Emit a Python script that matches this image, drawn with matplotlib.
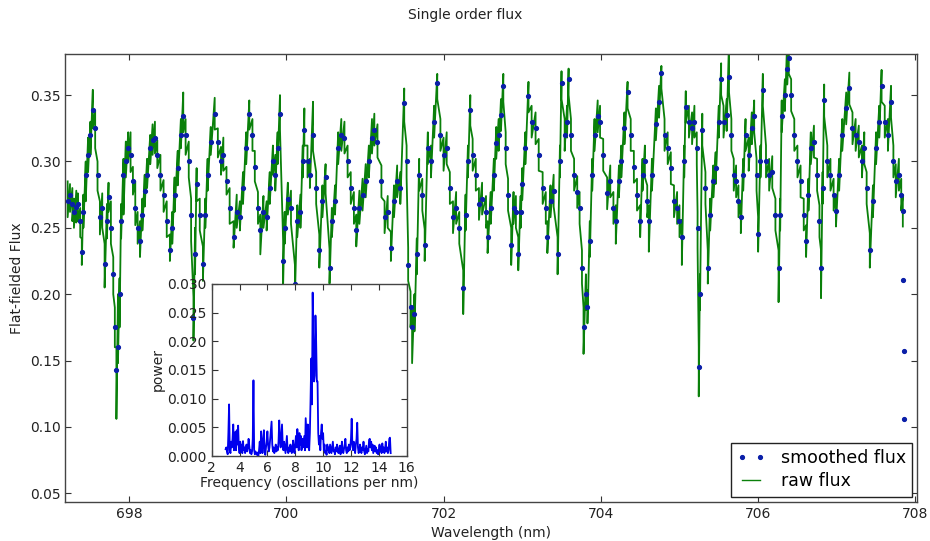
import numpy as np
import matplotlib
matplotlib.use("Agg")
import matplotlib.pyplot as plt
from matplotlib.ticker import FormatStrFormatter

# ---------------- data ----------------
# wavelength samples of the order (nm)
wavelength = [
    697.22, 697.25, 697.28, 697.30, 697.33, 697.35, 697.38, 697.40, 697.42, 697.45,
    697.48, 697.51, 697.54, 697.57, 697.60, 697.63, 697.66, 697.69, 697.72, 697.74,
    697.77, 697.80, 697.82, 697.84, 697.86, 697.88, 697.90, 697.93, 697.96, 697.99,
    698.02, 698.05, 698.08, 698.11, 698.14, 698.17, 698.20, 698.23, 698.27, 698.30,
    698.33, 698.36, 698.40, 698.44, 698.48, 698.52, 698.55, 698.58, 698.62, 698.66,
    698.69, 698.72, 698.76, 698.79, 698.82, 698.84, 698.86, 698.90, 698.94, 698.97,
    699.00, 699.04, 699.09, 699.13, 699.17, 699.20, 699.24, 699.28, 699.33, 699.37,
    699.41, 699.45, 699.49, 699.53, 699.57, 699.60, 699.64, 699.67, 699.71, 699.75,
    699.79, 699.83, 699.86, 699.89, 699.92, 699.96, 699.98, 700.02, 700.06, 700.11,
    700.14, 700.18, 700.21, 700.23, 700.27, 700.30, 700.34, 700.38, 700.42, 700.46,
    700.50, 700.55, 700.58, 700.62, 700.66, 700.70, 700.74, 700.78, 700.82, 700.86,
    700.89, 700.93, 700.97, 701.01, 701.05, 701.09, 701.12, 701.16, 701.21, 701.25,
    701.29, 701.33, 701.37, 701.41, 701.45, 701.50, 701.53, 701.55, 701.58, 701.60,
    701.63, 701.66, 701.69, 701.73, 701.76, 701.80, 701.84, 701.88, 701.92, 701.96,
    702.00, 702.04, 702.08, 702.12, 702.16, 702.20, 702.25, 702.28, 702.31, 702.34,
    702.37, 702.41, 702.45, 702.49, 702.54, 702.56, 702.60, 702.64, 702.67, 702.70,
    702.73, 702.76, 702.79, 702.82, 702.86, 702.89, 702.92, 702.95, 702.98, 703.00,
    703.04, 703.08, 703.12, 703.17, 703.21, 703.26, 703.30, 703.32, 703.36, 703.40,
    703.45, 703.48, 703.50, 703.54, 703.57, 703.59, 703.62, 703.66, 703.70, 703.73,
    703.76, 703.78, 703.81, 703.83, 703.86, 703.89, 703.92, 703.96, 703.99, 704.03,
    704.08, 704.12, 704.16, 704.19, 704.23, 704.26, 704.30, 704.34, 704.38, 704.42,
    704.46, 704.50, 704.53, 704.56, 704.59, 704.61, 704.65, 704.70, 704.74, 704.77,
    704.81, 704.85, 704.89, 704.93, 704.97, 705.00, 705.03, 705.06, 705.08, 705.12,
    705.16, 705.19, 705.22, 705.23, 705.245, 705.26, 705.29, 705.33, 705.36, 705.39,
    705.43, 705.46, 705.50, 705.53, 705.56, 705.60, 705.63, 705.66, 705.69, 705.72,
    705.75, 705.78, 705.81, 705.84, 705.88, 705.92, 705.95, 705.98, 706.00, 706.03,
    706.06, 706.10, 706.14, 706.18, 706.22, 706.26, 706.28, 706.30, 706.34, 706.37,
    706.39, 706.42, 706.46, 706.50, 706.54, 706.58, 706.61, 706.64, 706.67, 706.71,
    706.75, 706.78, 706.80, 706.82, 706.84, 706.88, 706.92, 706.96, 706.99, 707.03,
    707.07, 707.12, 707.16, 707.20, 707.24, 707.28, 707.32, 707.35, 707.38, 707.42,
    707.46, 707.50, 707.54, 707.57, 707.61, 707.65, 707.69, 707.72, 707.75, 707.79,
    707.82, 707.84,
]

# smoothed flux, in units of 1e-3
smoothed_milli = [
    270, 275, 268, 262, 266, 268, 255, 232, 262, 290,
    305, 320, 339, 325, 290, 258, 265, 223, 255, 273,
    250, 215, 175, 143, 160, 200, 255, 290, 300, 310,
    305, 285, 265, 250, 240, 260, 278, 290, 310, 316,
    318, 305, 290, 275, 255, 233, 250, 275, 295, 320,
    334, 320, 300, 260, 182, 230, 283, 260, 223, 260,
    290, 315, 336, 315, 300, 305, 285, 265, 243, 262,
    258, 280, 310, 336, 320, 296, 265, 248, 262, 258,
    280, 300, 290, 310, 336, 225, 250, 272, 265, 208,
    255, 262, 300, 324, 300, 290, 320, 280, 233, 270,
    288, 220, 255, 270, 310, 320, 318, 300, 280, 265,
    248, 265, 275, 285, 300, 318, 324, 315, 285, 258,
    262, 235, 270, 285, 280, 344, 300, 222, 190, 175,
    185, 230, 290, 275, 237, 310, 300, 330, 359, 320,
    305, 310, 280, 258, 265, 250, 205, 260, 300, 339,
    305, 290, 268, 272, 262, 243, 265, 290, 314, 320,
    335, 357, 310, 275, 237, 265, 262, 230, 262, 283,
    310, 349, 330, 325, 305, 280, 265, 243, 270, 278,
    230, 300, 359, 320, 330, 362, 320, 290, 277, 265,
    220, 175, 200, 190, 240, 290, 320, 334, 330, 305,
    276, 285, 265, 255, 285, 300, 325, 352, 320, 296,
    275, 255, 290, 300, 270, 255, 290, 328, 345, 367,
    320, 310, 295, 270, 265, 255, 243, 300, 341, 330,
    325, 330, 310, 250, 145, 200, 324, 280, 220, 260,
    285, 295, 330, 362, 330, 335, 364, 320, 290, 285,
    270, 258, 290, 320, 305, 325, 334, 290, 245, 300,
    354, 300, 290, 292, 260, 220, 260, 334, 350, 370,
    378, 350, 320, 300, 285, 260, 240, 275, 310, 315,
    290, 255, 220, 280, 346, 300, 290, 275, 263, 290,
    320, 340, 355, 325, 320, 315, 300, 310, 280, 233,
    270, 310, 330, 357, 330, 320, 345, 300, 285, 290,
    275, 263,
]

# raw flux: upper excursion at each sample, in units of 1e-3
raw_high_milli = [
    285, 283, 280, 272, 278, 276, 265, 242, 275, 300,
    318, 330, 354, 338, 300, 270, 276, 238, 268, 284,
    270, 228, 190, 160, 200, 212, 268, 302, 315, 322,
    322, 296, 285, 262, 255, 272, 290, 302, 320, 328,
    330, 316, 305, 286, 270, 245, 262, 288, 308, 332,
    352, 332, 315, 272, 198, 250, 295, 272, 236, 272,
    302, 326, 348, 325, 311, 318, 296, 280, 255, 275,
    270, 292, 322, 346, 332, 308, 277, 260, 274, 270,
    292, 312, 305, 322, 350, 240, 262, 284, 278, 222,
    267, 275, 312, 340, 312, 302, 345, 292, 245, 282,
    298, 234, 265, 282, 322, 332, 330, 312, 292, 277,
    260, 278, 287, 298, 312, 332, 336, 328, 297, 270,
    274, 247, 282, 297, 292, 355, 312, 235, 202, 188,
    200, 242, 302, 287, 249, 322, 312, 342, 366, 332,
    318, 322, 292, 270, 277, 262, 218, 275, 312, 350,
    317, 302, 280, 284, 274, 255, 277, 302, 326, 332,
    347, 366, 322, 287, 250, 277, 274, 243, 274, 295,
    322, 360, 342, 337, 317, 292, 277, 255, 282, 290,
    243, 312, 368, 332, 342, 370, 332, 302, 289, 277,
    233, 190, 215, 203, 255, 302, 332, 346, 342, 317,
    288, 297, 277, 267, 297, 312, 337, 360, 332, 308,
    287, 267, 302, 312, 282, 267, 302, 340, 357, 372,
    332, 322, 307, 282, 277, 267, 256, 312, 353, 342,
    337, 342, 322, 262, 160, 215, 336, 292, 233, 272,
    297, 307, 342, 374, 342, 347, 392, 332, 302, 297,
    282, 270, 302, 332, 318, 337, 346, 302, 258, 312,
    366, 312, 302, 304, 272, 233, 272, 346, 362, 392,
    392, 362, 332, 312, 297, 272, 252, 287, 322, 327,
    302, 267, 233, 292, 358, 312, 302, 287, 275, 302,
    332, 352, 367, 337, 332, 327, 312, 322, 292, 246,
    282, 322, 342, 369, 342, 332, 357, 312, 298, 302,
    287, 275,
]

# raw flux: lower excursion at each sample, in units of 1e-3
raw_low_milli = [
    258, 262, 255, 250, 254, 255, 243, 222, 250, 270,
    292, 305, 325, 310, 278, 245, 250, 205, 242, 262,
    238, 200, 160, 106, 148, 175, 242, 260, 288, 300,
    292, 275, 252, 238, 228, 248, 266, 280, 298, 305,
    306, 295, 278, 262, 243, 225, 238, 262, 282, 310,
    322, 305, 288, 240, 165, 215, 270, 248, 210, 250,
    278, 305, 324, 303, 290, 293, 275, 253, 235, 250,
    248, 268, 298, 324, 308, 285, 253, 230, 250, 248,
    268, 290, 278, 298, 324, 208, 238, 260, 253, 198,
    243, 250, 288, 312, 288, 280, 308, 268, 220, 258,
    276, 208, 243, 260, 298, 308, 306, 288, 268, 253,
    236, 253, 263, 273, 288, 306, 312, 303, 273, 246,
    250, 225, 258, 273, 268, 330, 288, 210, 175, 148,
    172, 215, 278, 263, 225, 298, 288, 318, 347, 308,
    293, 298, 268, 246, 253, 238, 185, 248, 288, 327,
    293, 278, 256, 260, 250, 231, 253, 278, 302, 308,
    323, 345, 298, 263, 222, 253, 250, 218, 250, 271,
    298, 337, 318, 313, 293, 268, 253, 231, 258, 266,
    215, 288, 347, 308, 318, 350, 308, 278, 265, 253,
    208, 155, 188, 178, 228, 278, 308, 322, 318, 293,
    264, 273, 253, 238, 273, 288, 313, 340, 308, 284,
    263, 243, 278, 288, 258, 232, 278, 316, 333, 355,
    308, 298, 283, 258, 253, 243, 222, 288, 329, 318,
    313, 318, 298, 235, 123, 188, 312, 268, 208, 248,
    273, 283, 318, 350, 318, 323, 352, 308, 278, 273,
    258, 246, 278, 308, 293, 313, 322, 278, 232, 288,
    342, 288, 278, 280, 248, 194, 248, 322, 338, 358,
    366, 338, 308, 288, 273, 248, 228, 263, 298, 303,
    278, 243, 197, 268, 334, 288, 278, 263, 251, 278,
    308, 328, 343, 313, 308, 303, 288, 298, 268, 220,
    258, 298, 318, 345, 318, 308, 333, 288, 273, 278,
    263, 251,
]

# the last smoothed samples at the order edge (smoothing falls off)
edge_wavelength = [707.845, 707.850, 707.855]
edge_smoothed_milli = [211, 157, 106]

# inset periodogram: frequency grid start / step (oscillations per nm), power in 1e-4
freq_start = 3.0
freq_step = 0.05
power_e4 = [
    12, 15, 8, 3, 40, 90, 10, 5, 25, 15,
    30, 55, 10, 30, 42, 10, 45, 20, 53, 15,
    5, 25, 10, 20, 5, 26, 10, 15, 5, 12,
    20, 8, 15, 30, 18, 5, 10, 3, 8, 30,
    132, 10, 3, 8, 5, 2, 6, 0, 10, 25,
    5, 43, 15, 5, 30, 45, 10, 2, 15, 25,
    43, 20, 8, 15, 30, 45, 60, 20, 8, 15,
    5, 12, 20, 8, 15, 10, 25, 62, 30, 15,
    35, 55, 20, 10, 25, 15, 5, 20, 35, 10,
    5, 15, 8, 20, 12, 5, 15, 27, 10, 5,
    20, 35, 15, 47, 30, 10, 40, 20, 35, 10,
    30, 15, 25, 35, 10, 66, 40, 15, 55, 30,
    10, 40, 100, 170, 90, 285, 200, 130, 140, 245,
    200, 130, 130, 40, 20, 35, 10, 40, 55, 30,
    40, 10, 20, 5, 8, 2, 20, 10, 15, 5,
    20, 12, 5, 15, 25, 8, 10, 3, 15, 8,
    20, 12, 5, 10, 18, 3, 10, 25, 8, 5,
    12, 20, 30, 10, 5, 15, 8, 20, 10, 15,
    30, 65, 20, 10, 25, 15, 5, 20, 30, 58,
    15, 5, 10, 20, 12, 5, 15, 10, 25, 8,
    3, 10, 18, 5, 12, 8, 28, 30, 15, 25,
    10, 20, 5, 12, 18, 8, 15, 5, 10, 3,
    12, 20, 8, 15, 5, 22, 10, 15, 5, 12,
    25, 8, 15, 5, 10, 30, 32, 5,
]

x_ticks = [698, 700, 702, 704, 706, 708]
y_ticks = [0.05, 0.10, 0.15, 0.20, 0.25, 0.30, 0.35]
inset_x_ticks = [2, 4, 6, 8, 10, 12, 14, 16]
inset_y_ticks = [0.000, 0.005, 0.010, 0.015, 0.020, 0.025, 0.030]

# ---------------- derived arrays ----------------
wl = np.array(wavelength)
smooth = np.array(smoothed_milli) / 1000.0
raw_hi = np.array(raw_high_milli) / 1000.0
raw_lo = np.array(raw_low_milli) / 1000.0
raw_wl = np.repeat(wl, 2)
raw_flux = np.column_stack([raw_hi, raw_lo]).ravel()
sm_wl = np.concatenate([wl, np.array(edge_wavelength)])
sm_flux = np.concatenate([smooth, np.array(edge_smoothed_milli) / 1000.0])
power = np.array(power_e4) / 1e4
freq = freq_start + freq_step * np.arange(len(power))

# ---------------- figure ----------------
plt.rcParams['font.family'] = ['DejaVu Sans']
fig = plt.figure(figsize=(9.3, 5.41), dpi=100)
fig.patch.set_facecolor('white')

ax = fig.add_axes([0.0702, 0.0726, 0.9158, 0.8276])
ax.plot(sm_wl, sm_flux, '.', color='#0a1fa8', markersize=5.5, label='smoothed flux', zorder=3)
ax.plot(raw_wl, raw_flux, '-', color='#0a800a', linewidth=1.3, label='raw flux', zorder=2)
ax.set_xlim(697.19, 708.02)
ax.set_ylim(0.0436, 0.381)
ax.set_xticks(x_ticks)
ax.set_yticks(y_ticks)
ax.yaxis.set_major_formatter(FormatStrFormatter('%.2f'))
ax.tick_params(direction='in', top=True, right=True, labelsize=10, length=4, width=0.8,
               colors='#333333', labelcolor='#222222')
for sp in ax.spines.values():
    sp.set_color('#444444')
    sp.set_linewidth(1.0)
ax.set_xlabel('Wavelength (nm)', fontsize=10, color='#222222')
ax.set_ylabel('Flat-fielded Flux', fontsize=10, color='#222222')
leg = ax.legend(loc='lower right', numpoints=2, fontsize=12.5, fancybox=False,
                edgecolor='#222222', framealpha=1, borderaxespad=0.3,
                handlelength=1.6, handletextpad=0.9, borderpad=0.35, labelspacing=0.3)
leg.get_frame().set_linewidth(1.0)
leg.get_lines()[1].set_linewidth(1.0)

fig.suptitle('Single order flux', fontsize=10, y=0.985, color='#222222')

# inset periodogram
ins = fig.add_axes([0.2276, 0.1571, 0.2097, 0.318])
ins.plot(freq, power, '-', color='#0000ee', linewidth=1.3)
ins.set_xlim(2, 16)
ins.set_ylim(0, 0.030)
ins.set_xticks(inset_x_ticks)
ins.set_yticks(inset_y_ticks)
ins.yaxis.set_major_formatter(FormatStrFormatter('%.3f'))
ins.tick_params(direction='in', top=True, right=True, labelsize=10, length=4, width=0.8,
                colors='#333333', labelcolor='#222222')
for sp in ins.spines.values():
    sp.set_color('#444444')
    sp.set_linewidth(1.0)
ins.set_xlabel('Frequency (oscillations per nm)', fontsize=10, labelpad=1, color='#222222')
ins.set_ylabel('power', fontsize=10, labelpad=2, color='#222222')

fig.savefig('out.png', dpi=100, facecolor='white')
